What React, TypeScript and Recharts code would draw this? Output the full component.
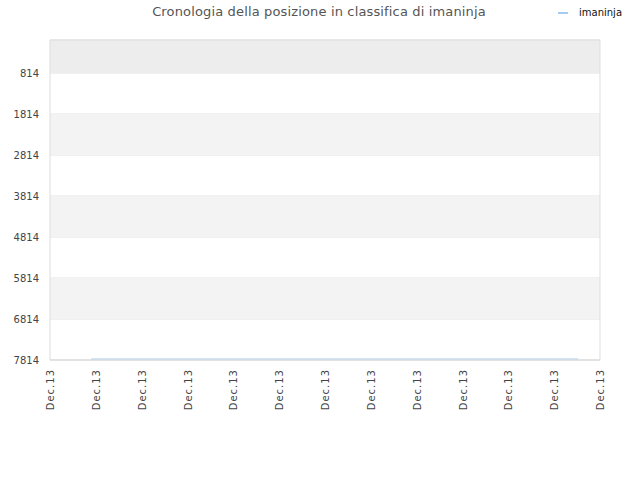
import React from "react";
import {
    LineChart,
    Line,
    XAxis,
    YAxis,
    CartesianGrid,
    ReferenceArea,
} from "recharts";

// x ticks: one label per slot on the time axis
const xTickLabels = [
    "Dec.13", "Dec.13", "Dec.13", "Dec.13", "Dec.13", "Dec.13", "Dec.13",
    "Dec.13", "Dec.13", "Dec.13", "Dec.13", "Dec.13", "Dec.13",
];
const yTicks = [814, 1814, 2814, 3814, 4814, 5814, 6814, 7814];
const yDomain: [number, number] = [9, 7814];

// series: position on the time axis and rank
const pointTimes = [0.9, 11.52];
const pointRanks = [7790, 7790];

const seriesName = "imaninja";
const chartTitle = "Cronologia della posizione in classifica di imaninja";

const data = pointTimes.map((t, i) => ({ t, rank: pointRanks[i] }));
const xTicks = xTickLabels.map((_, i) => i);

const FONT = "'DejaVu Sans', sans-serif";
const LINE_COLOR = "#a4cbf1";

function XTick(props: any) {
    const { x, y, payload } = props;
    return (
        <text
            x={x}
            y={y + 1}
            dy={4}
            transform={`rotate(-90 ${x} ${y + 1})`}
            textAnchor="end"
            fontSize={10}
            letterSpacing={1}
            fontFamily={FONT}
            fill="#444"
        >
            {xTickLabels[payload.value]}
        </text>
    );
}

function YTick(props: any) {
    const { x, y, payload } = props;
    return (
        <text x={x} y={y} dy={4} textAnchor="end" fontSize={10} fontFamily={FONT} fill="#444">
            {payload.value}
        </text>
    );
}

export default function App() {
    return (
        <div style={{ position: "relative", width: 640, height: 480, background: "#fff" }}>
            <style>{"body{margin:0}"}</style>
            <div
                style={{
                    position: "absolute",
                    top: 4,
                    left: 0,
                    width: 638,
                    textAlign: "center",
                    fontFamily: FONT,
                    fontSize: 13,
                    letterSpacing: 0.15,
                    color: "#555",
                }}
            >
                {chartTitle}
            </div>
            <div
                style={{
                    position: "absolute",
                    top: 7,
                    left: 558,
                    display: "flex",
                    alignItems: "center",
                    fontFamily: FONT,
                    fontSize: 10,
                    color: "#111",
                }}
            >
                <span style={{ display: "inline-block", width: 10, height: 2, background: LINE_COLOR, marginRight: 11 }} />
                {seriesName}
            </div>
            <LineChart
                width={640}
                height={480}
                data={data}
                margin={{ top: 40, right: 40, left: 0, bottom: 0 }}
            >
                {/* alternating bands */}
                <ReferenceArea y1={yDomain[0]} y2={yTicks[0]} fill="#ededed" fillOpacity={1} stroke="none" />
                <ReferenceArea y1={yTicks[1]} y2={yTicks[2]} fill="#f3f3f3" fillOpacity={1} stroke="none" />
                <ReferenceArea y1={yTicks[3]} y2={yTicks[4]} fill="#f3f3f3" fillOpacity={1} stroke="none" />
                <ReferenceArea y1={yTicks[5]} y2={yTicks[6]} fill="#f3f3f3" fillOpacity={1} stroke="none" />
                <CartesianGrid vertical={false} stroke="#e2e2e2" />
                <ReferenceArea
                    x1={0}
                    x2={xTicks.length - 1}
                    y1={yDomain[0]}
                    y2={yDomain[1]}
                    fill="none"
                    stroke="#dddddd"
                    strokeOpacity={1}
                />
                <XAxis
                    dataKey="t"
                    type="number"
                    domain={[0, xTicks.length - 1]}
                    ticks={xTicks}
                    interval={0}
                    height={120}
                    axisLine={{ stroke: "#dddddd" }}
                    tickLine={false}
                    tick={<XTick />}
                />
                <YAxis
                    reversed
                    type="number"
                    domain={yDomain}
                    ticks={yTicks}
                    interval={0}
                    width={50}
                    tickMargin={5}
                    axisLine={false}
                    tickLine={false}
                    allowDataOverflow
                    tick={<YTick />}
                />
                <Line
                    type="linear"
                    dataKey="rank"
                    stroke={LINE_COLOR}
                    strokeWidth={1.2}
                    dot={false}
                    isAnimationActive={false}
                />
            </LineChart>
        </div>
    );
}
